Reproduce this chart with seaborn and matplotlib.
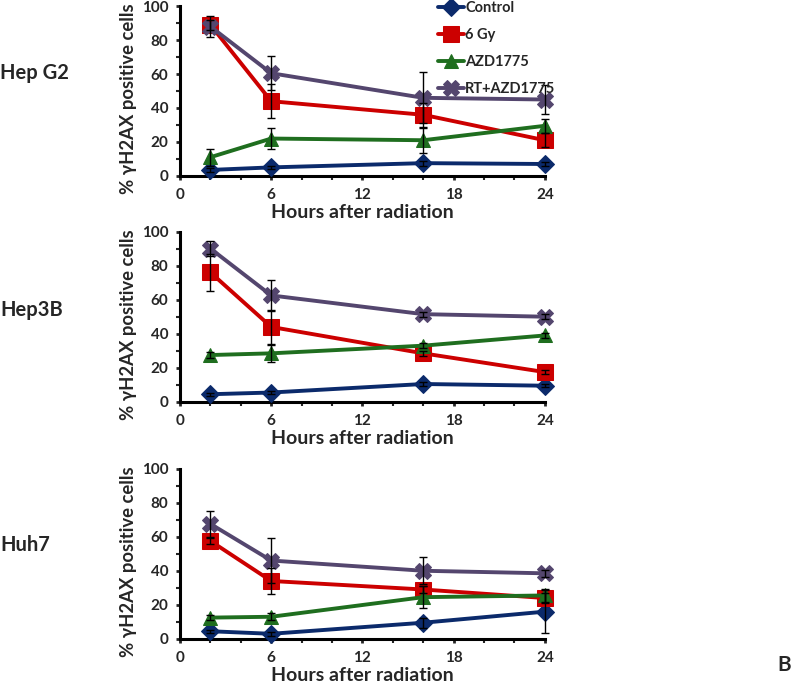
import matplotlib
matplotlib.use("Agg")
import matplotlib.pyplot as plt
from matplotlib.ticker import MultipleLocator
import numpy as np
import pandas as pd
import seaborn as sns

# Data
hours = [2, 6, 16, 24]
series = ["Control", "6 Gy", "AZD1775", "RT+AZD1775"]
cell_lines = ["Hep G2", "Hep3B", "Huh7"]

hepg2_control = [3.5, 5, 7.5, 7]
hepg2_6gy = [89, 44, 36, 21]
hepg2_azd = [11, 22, 21, 29.5]
hepg2_rt = [88, 60.5, 46, 45]
hepg2_control_err = [1, 1, 1.5, 1]
hepg2_6gy_err = [3, 10, 7, 4]
hepg2_azd_err = [5, 6, 7.5, 4]
hepg2_rt_err = [6, 10, 15, 8.5]

hep3b_control = [4.5, 5.5, 10.5, 9.5]
hep3b_6gy = [76, 44, 28.5, 17.5]
hep3b_azd = [27.5, 28.5, 33, 39]
hep3b_rt = [90, 62.5, 51.5, 50]
hep3b_control_err = [1, 1, 1, 1]
hep3b_6gy_err = [11, 10, 1.5, 1]
hep3b_azd_err = [1.5, 5, 1.5, 1.5]
hep3b_rt_err = [4.5, 9, 1.5, 1.5]

huh7_control = [4.5, 3, 9.5, 16]
huh7_6gy = [57.5, 34, 29, 24]
huh7_azd = [12.5, 13, 24.5, 25.5]
huh7_rt = [67.5, 46, 40, 38.5]
huh7_control_err = [1, 1, 3, 12.5]
huh7_6gy_err = [2, 7.5, 2, 3]
huh7_azd_err = [1.5, 2, 6.5, 4]
huh7_rt_err = [7.5, 13, 8, 2]

valores = [
    [hepg2_control, hepg2_6gy, hepg2_azd, hepg2_rt],
    [hep3b_control, hep3b_6gy, hep3b_azd, hep3b_rt],
    [huh7_control, huh7_6gy, huh7_azd, huh7_rt],
]
errores = [
    [hepg2_control_err, hepg2_6gy_err, hepg2_azd_err, hepg2_rt_err],
    [hep3b_control_err, hep3b_6gy_err, hep3b_azd_err, hep3b_rt_err],
    [huh7_control_err, huh7_6gy_err, huh7_azd_err, huh7_rt_err],
]

colores = ["#0b2a6b", "#cc0000", "#1f6e1f", "#54466e"]
marcadores = ["D", "s", "^", "X"]
tam_marcador = [9, 11, 10, 11]

sns.set_style("white")
plt.rcParams["font.family"] = ["Lato", "DejaVu Sans"]
plt.rcParams["font.weight"] = "bold"

fig = plt.figure(figsize=(8, 6.87), dpi=100)
posiciones = [
    [0.225, 0.744, 0.456, 0.247],
    [0.225, 0.415, 0.456, 0.248],
    [0.225, 0.070, 0.456, 0.248],
]
etiquetas_y = [0.894, 0.549, 0.207]

for i, linea in enumerate(cell_lines):
    ax = fig.add_axes(posiciones[i])
    for j, nombre in enumerate(series):
        df = pd.DataFrame({"hora": hours, "valor": valores[i][j]})
        ax.errorbar(df["hora"], df["valor"], yerr=errores[i][j], fmt="none",
                    ecolor="black", elinewidth=1, capsize=3, capthick=1,
                    zorder=5, clip_on=False)
        sns.lineplot(data=df, x="hora", y="valor", ax=ax, color=colores[j],
                     marker=marcadores[j], markersize=tam_marcador[j],
                     markeredgecolor=colores[j], linewidth=2.8,
                     label=nombre if i == 0 else None, clip_on=False,
                     zorder=3, legend=False)

    ax.set_xlim(0, 24)
    ax.set_ylim(0, 100)
    ax.xaxis.set_major_locator(MultipleLocator(6))
    ax.xaxis.set_minor_locator(MultipleLocator(2))
    ax.yaxis.set_major_locator(MultipleLocator(20))
    ax.yaxis.set_minor_locator(MultipleLocator(10))
    ax.tick_params(axis="x", which="major", direction="out", length=3,
                   width=2, labelsize=11, pad=6, bottom=True)
    ax.tick_params(axis="y", which="major", direction="out", length=3,
                   width=2, labelsize=11, pad=5.5, left=True)
    ax.tick_params(axis="both", which="minor", direction="out", length=3,
                   width=1.5, bottom=True, left=True)
    for etiqueta in ax.get_xticklabels() + ax.get_yticklabels():
        etiqueta.set_fontweight("bold")
    sns.despine(ax=ax)
    for lado in ["left", "bottom"]:
        ax.spines[lado].set_linewidth(2.2)
        ax.spines[lado].set_color("black")
    ax.set_xlabel("Hours after radiation", fontsize=14, fontweight="bold",
                  labelpad=1.5)
    ax.set_ylabel("% \u03b3H2AX positive cells", fontsize=13.3,
                  fontweight="bold", labelpad=3)
    ax.yaxis.label.set_y(0.455)
    fig.text(0.0, etiquetas_y[i], linea, fontsize=14.5, fontweight="bold",
             ha="left", va="center")

    if i == 0:
        ax.legend(loc="upper left", bbox_to_anchor=(0.69, 1.065), frameon=False,
                  handlelength=1.8, handletextpad=0.1,
                  labelspacing=0.9, borderaxespad=0,
                  prop={"weight": "bold", "size": 10.5})

fig.text(0.98, 0.032, "B", fontsize=15, fontweight="bold", ha="center",
         va="center")

fig.savefig("out.png", dpi=100)
